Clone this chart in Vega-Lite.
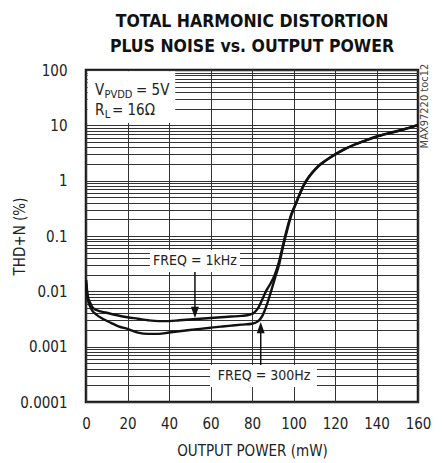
{
  "$schema": "https://vega.github.io/schema/vega-lite/v6.json",
  "width": 332,
  "height": 332,
  "autosize": {"type": "none"},
  "padding": {"left": 86, "top": 70, "right": 24, "bottom": 61},
  "background": "white",
  "title": {
    "text": ["TOTAL HARMONIC DISTORTION", "PLUS NOISE vs. OUTPUT POWER"],
    "font": "DejaVu Sans Condensed, sans-serif",
    "fontWeight": "bold",
    "fontSize": 17.5,
    "lineHeight": 25,
    "anchor": "middle",
    "offset": 8,
    "color": "#111"
  },
  "config": {
    "view": {"stroke": "#1a1a1a", "strokeWidth": 2.5},
    "font": "DejaVu Sans Condensed, sans-serif"
  },
  "datasets": {
    "curves": [
      {"freq": "1kHz", "x": 0.1, "y": 0.016}, {"freq": "1kHz", "x": 0.5, "y": 0.0105}, {"freq": "1kHz", "x": 1, "y": 0.0078},
      {"freq": "1kHz", "x": 2, "y": 0.0062}, {"freq": "1kHz", "x": 3, "y": 0.0052}, {"freq": "1kHz", "x": 5, "y": 0.0046},
      {"freq": "1kHz", "x": 10, "y": 0.0041}, {"freq": "1kHz", "x": 15, "y": 0.0037}, {"freq": "1kHz", "x": 20, "y": 0.0034},
      {"freq": "1kHz", "x": 25, "y": 0.0032}, {"freq": "1kHz", "x": 30, "y": 0.0030}, {"freq": "1kHz", "x": 35, "y": 0.0029},
      {"freq": "1kHz", "x": 40, "y": 0.0029}, {"freq": "1kHz", "x": 45, "y": 0.0030}, {"freq": "1kHz", "x": 50, "y": 0.0031},
      {"freq": "1kHz", "x": 55, "y": 0.0032}, {"freq": "1kHz", "x": 60, "y": 0.0033}, {"freq": "1kHz", "x": 65, "y": 0.0034},
      {"freq": "1kHz", "x": 70, "y": 0.0035}, {"freq": "1kHz", "x": 75, "y": 0.0036}, {"freq": "1kHz", "x": 79, "y": 0.0038},
      {"freq": "1kHz", "x": 81, "y": 0.0041}, {"freq": "1kHz", "x": 83, "y": 0.0050}, {"freq": "1kHz", "x": 85, "y": 0.0072},
      {"freq": "1kHz", "x": 87, "y": 0.0105}, {"freq": "1kHz", "x": 89, "y": 0.014}, {"freq": "1kHz", "x": 91, "y": 0.020},
      {"freq": "1kHz", "x": 93, "y": 0.034}, {"freq": "1kHz", "x": 95, "y": 0.070}, {"freq": "1kHz", "x": 97, "y": 0.14},
      {"freq": "1kHz", "x": 99, "y": 0.25}, {"freq": "1kHz", "x": 101, "y": 0.38}, {"freq": "1kHz", "x": 103, "y": 0.58},
      {"freq": "1kHz", "x": 105, "y": 0.85}, {"freq": "1kHz", "x": 107, "y": 1.12}, {"freq": "1kHz", "x": 109, "y": 1.40},
      {"freq": "1kHz", "x": 112, "y": 1.85}, {"freq": "1kHz", "x": 116, "y": 2.4}, {"freq": "1kHz", "x": 120, "y": 3.0},
      {"freq": "1kHz", "x": 125, "y": 3.8}, {"freq": "1kHz", "x": 130, "y": 4.6}, {"freq": "1kHz", "x": 135, "y": 5.4},
      {"freq": "1kHz", "x": 140, "y": 6.3}, {"freq": "1kHz", "x": 145, "y": 7.1}, {"freq": "1kHz", "x": 150, "y": 7.9},
      {"freq": "1kHz", "x": 155, "y": 8.9}, {"freq": "1kHz", "x": 160, "y": 10.2},
      {"freq": "300Hz", "x": 0.1, "y": 0.014}, {"freq": "300Hz", "x": 0.5, "y": 0.0095}, {"freq": "300Hz", "x": 1, "y": 0.0068},
      {"freq": "300Hz", "x": 2, "y": 0.0053}, {"freq": "300Hz", "x": 3, "y": 0.0045}, {"freq": "300Hz", "x": 5, "y": 0.0038},
      {"freq": "300Hz", "x": 8, "y": 0.0032}, {"freq": "300Hz", "x": 12, "y": 0.0027}, {"freq": "300Hz", "x": 16, "y": 0.0023},
      {"freq": "300Hz", "x": 20, "y": 0.0021}, {"freq": "300Hz", "x": 25, "y": 0.0018}, {"freq": "300Hz", "x": 30, "y": 0.0017},
      {"freq": "300Hz", "x": 35, "y": 0.0017}, {"freq": "300Hz", "x": 40, "y": 0.0018}, {"freq": "300Hz", "x": 45, "y": 0.0019},
      {"freq": "300Hz", "x": 50, "y": 0.0020}, {"freq": "300Hz", "x": 55, "y": 0.0021}, {"freq": "300Hz", "x": 60, "y": 0.0022},
      {"freq": "300Hz", "x": 65, "y": 0.0023}, {"freq": "300Hz", "x": 70, "y": 0.0024}, {"freq": "300Hz", "x": 75, "y": 0.0025},
      {"freq": "300Hz", "x": 80, "y": 0.0026}, {"freq": "300Hz", "x": 83, "y": 0.0029}, {"freq": "300Hz", "x": 85, "y": 0.0036},
      {"freq": "300Hz", "x": 87, "y": 0.0055}, {"freq": "300Hz", "x": 89, "y": 0.0095}, {"freq": "300Hz", "x": 91, "y": 0.017},
      {"freq": "300Hz", "x": 93, "y": 0.030}, {"freq": "300Hz", "x": 95, "y": 0.065}, {"freq": "300Hz", "x": 97, "y": 0.13},
      {"freq": "300Hz", "x": 99, "y": 0.24}, {"freq": "300Hz", "x": 101, "y": 0.37}, {"freq": "300Hz", "x": 103, "y": 0.56},
      {"freq": "300Hz", "x": 105, "y": 0.83}, {"freq": "300Hz", "x": 107, "y": 1.10}, {"freq": "300Hz", "x": 109, "y": 1.38},
      {"freq": "300Hz", "x": 112, "y": 1.82}, {"freq": "300Hz", "x": 116, "y": 2.37}, {"freq": "300Hz", "x": 120, "y": 2.95},
      {"freq": "300Hz", "x": 125, "y": 3.75}, {"freq": "300Hz", "x": 130, "y": 4.55}, {"freq": "300Hz", "x": 135, "y": 5.35},
      {"freq": "300Hz", "x": 140, "y": 6.2}, {"freq": "300Hz", "x": 145, "y": 7.0}, {"freq": "300Hz", "x": 150, "y": 7.8},
      {"freq": "300Hz", "x": 155, "y": 8.8}, {"freq": "300Hz", "x": 160, "y": 10.1}
    ],
    "boxes": [
      {"x": 0.8, "x2": 43, "y": 95, "y2": 11},
      {"x": 30.8, "x2": 74.2, "y": 0.0558, "y2": 0.0223},
      {"x": 59.8, "x2": 111.3, "y": 0.000466, "y2": 0.000187}
    ],
    "arrows": [
      {"x": 52.5, "y": 0.0223, "y2": 0.00416},
      {"x": 84.2, "y": 0.000466, "y2": 0.00221}
    ],
    "headsDown": [{"x": 52.5, "y": 0.00416}],
    "headsUp": [{"x": 84.2, "y": 0.00221}],
    "mainText": [
      {"x": 4.3, "y": 35.3, "text": "V"},
      {"x": 24.1, "y": 35.3, "text": "= 5V"},
      {"x": 4.3, "y": 15.4, "text": "R"},
      {"x": 12.5, "y": 15.4, "text": "= 16Ω"}
    ],
    "subText": [
      {"x": 8.9, "y": 31.2, "text": "PVDD"},
      {"x": 9.0, "y": 13.6, "text": "L"}
    ],
    "freqText": [
      {"x": 52.5, "y": 0.0353, "text": "FREQ = 1kHz"},
      {"x": 85.8, "y": 0.000295, "text": "FREQ = 300Hz"}
    ],
    "code": [{"x": 163.4, "y": 22.3, "text": "MAX97220 toc12"}]
  },
  "encoding": {
    "x": {
      "field": "x",
      "type": "quantitative",
      "scale": {"domain": [0, 160], "nice": false, "zero": false},
      "axis": {
        "values": [0, 20, 40, 60, 80, 100, 120, 140, 160],
        "title": "OUTPUT POWER (mW)",
        "grid": true,
        "gridColor": "#333",
        "gridWidth": 1,
        "gridOpacity": 1,
        "ticks": false,
        "domain": false,
        "labelPadding": 14,
        "labelFontSize": 15,
        "labelColor": "#222",
        "labelFlush": false,
        "titleFontSize": 15,
        "titleFontWeight": "normal",
        "titleColor": "#222",
        "titlePadding": 12
      }
    },
    "y": {
      "field": "y",
      "type": "quantitative",
      "scale": {"type": "log", "domain": [0.0001, 100], "nice": false},
      "axis": {
        "values": [0.0001, 0.0002, 0.0003, 0.0004, 0.0005, 0.0006, 0.0007, 0.0008, 0.0009,
                   0.001, 0.002, 0.003, 0.004, 0.005, 0.006, 0.007, 0.008, 0.009,
                   0.01, 0.02, 0.03, 0.04, 0.05, 0.06, 0.07, 0.08, 0.09,
                   0.1, 0.2, 0.3, 0.4, 0.5, 0.6, 0.7, 0.8, 0.9,
                   1, 2, 3, 4, 5, 6, 7, 8, 9,
                   10, 20, 30, 40, 50, 60, 70, 80, 90, 100],
        "format": ".4~f",
        "labelExpr": "indexof(['0.0001','0.001','0.01','0.1','1','10','100'], datum.label) >= 0 ? datum.label : ''",
        "labelOverlap": false,
        "labelFlush": false,
        "title": "THD+N (%)",
        "grid": true,
        "gridColor": "#333",
        "gridWidth": 1,
        "gridOpacity": 1,
        "ticks": false,
        "domain": false,
        "labelPadding": 19,
        "labelFontSize": 15,
        "labelColor": "#222",
        "titleFontSize": 15,
        "titleFontWeight": "normal",
        "titleColor": "#222",
        "titlePadding": -8
      }
    }
  },
  "layer": [
    {
      "data": {"name": "boxes"},
      "mark": {"type": "rect", "fill": "white", "stroke": null},
      "encoding": {"x2": {"field": "x2"}, "y2": {"field": "y2"}}
    },
    {
      "data": {"name": "arrows"},
      "mark": {"type": "rule", "color": "#111", "strokeWidth": 1.5},
      "encoding": {"y2": {"field": "y2"}}
    },
    {
      "data": {"name": "headsDown"},
      "mark": {"type": "point", "shape": "M-1,-1.4L1,-1.4L0,1.4Z", "size": 64, "filled": true, "color": "#111", "opacity": 1}
    },
    {
      "data": {"name": "headsUp"},
      "mark": {"type": "point", "shape": "M-1,1.4L1,1.4L0,-1.4Z", "size": 64, "filled": true, "color": "#111", "opacity": 1}
    },
    {
      "data": {"name": "curves"},
      "mark": {"type": "line", "color": "#111", "strokeWidth": 2.4, "interpolate": "monotone"},
      "encoding": {"detail": {"field": "freq"}}
    },
    {
      "data": {"name": "mainText"},
      "mark": {"type": "text", "align": "left", "baseline": "alphabetic", "fontSize": 15, "color": "#222"},
      "encoding": {"text": {"field": "text"}}
    },
    {
      "data": {"name": "subText"},
      "mark": {"type": "text", "align": "left", "baseline": "alphabetic", "fontSize": 11, "color": "#222"},
      "encoding": {"text": {"field": "text"}}
    },
    {
      "data": {"name": "freqText"},
      "mark": {"type": "text", "align": "center", "baseline": "middle", "fontSize": 14, "color": "#222"},
      "encoding": {"text": {"field": "text"}}
    },
    {
      "data": {"name": "code"},
      "mark": {"type": "text", "align": "center", "baseline": "middle", "angle": 270, "fontSize": 11, "color": "#444"},
      "encoding": {"text": {"field": "text"}}
    }
  ]
}
